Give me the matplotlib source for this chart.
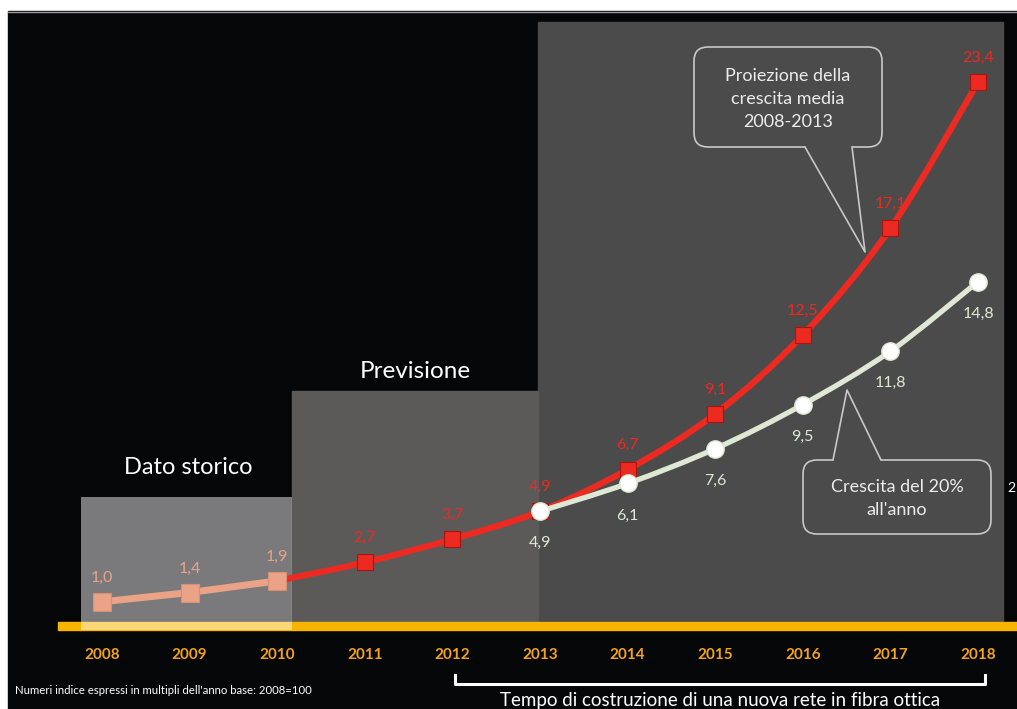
import numpy as np
import matplotlib.pyplot as plt
from matplotlib.patches import Rectangle, FancyBboxPatch, Polygon, PathPatch
from matplotlib.path import Path

plt.rcParams['font.family'] = ['Lato', 'DejaVu Sans']

# dati: numeri indice, 2008 = 1,0
anni = list(range(2008, 2019))
anni_storico = [2008, 2009, 2010]
valori_storico = [1.0, 1.4, 1.9]
anni_media = [2010, 2011, 2012, 2013, 2014, 2015, 2016, 2017, 2018]
valori_media = [1.9, 2.7, 3.7, 4.9, 6.7, 9.1, 12.5, 17.1, 23.4]
anni_20 = [2013, 2014, 2015, 2016, 2017, 2018]
valori_20 = [4.9, 6.1, 7.6, 9.5, 11.8, 14.8]

ROSSO = '#ec2a22'
SALMONE = '#eaa387'
BIANCO = '#dfe8d4'
ARANCIO = '#f2a31b'
GIALLO = '#f7b500'

W, H = 1017, 709
# pixel del primo anno e passo orizzontale, linea dello zero e pixel per unita'
X0, DX = 102, 87.6
Y0, DY = 625, 23.2


def fmt(v):
    return f"{v:.1f}".replace('.', ',')


def curva(xs, ys):
    # spline di Catmull-Rom resa come curve di Bezier
    pts = np.column_stack([xs, ys]).astype(float)
    ext = np.vstack([pts[0], pts, pts[-1]])
    verts = [pts[0]]
    codes = [Path.MOVETO]
    for i in range(len(pts) - 1):
        p0, p1, p2, p3 = ext[i], ext[i + 1], ext[i + 2], ext[i + 3]
        verts += [p1 + (p2 - p0) / 6, p2 - (p3 - p1) / 6, p2]
        codes += [Path.CURVE4] * 3
    return Path(verts, codes)


fig = plt.figure(figsize=(W / 100, H / 100), dpi=100, facecolor='white')

# livello di sfondo in pixel
bg = fig.add_axes([0, 0, 1, 1])
bg.set_xlim(0, W)
bg.set_ylim(H, 0)
bg.axis('off')
bg.add_patch(Rectangle((8, 11), W, H, color='#050608', zorder=0))
bg.plot([8, W], [11.5, 11.5], color='#9a9a9a', lw=1, zorder=1)

bg.add_patch(Rectangle((538, 22), 465, 604, color='#4b4b4b', zorder=1))
bg.add_patch(Rectangle((292, 391), 246, 235, color='#5c5a58', zorder=1))
bg.add_patch(Rectangle((58, 622), W - 58, 8, color=GIALLO, zorder=2))
bg.add_patch(Rectangle((81, 497), 211, 133, color='white', alpha=0.47, zorder=3, lw=0))

bg.text(188, 468, 'Dato storico', color='white', fontsize=17, ha='center', va='center')
bg.text(415, 372, 'Previsione', color='white', fontsize=17.5, ha='center', va='center')


def fumetto(x, y, w, h, base, punta, righe, cy, passo):
    bg.add_patch(FancyBboxPatch((x, y), w, h, boxstyle='round,pad=0,rounding_size=14',
                                fc='#4b4b4b', ec='#c8c8c8', lw=1.2, zorder=4))
    b1, b2, by = base
    dy = -4 if by > y + h / 2 else 4
    bg.add_patch(Polygon([(b1, by + dy), (b1, by), punta, (b2, by), (b2, by + dy)],
                         closed=True, fc='#4b4b4b', ec='none', zorder=5))
    bg.plot([b1, punta[0], b2], [by, punta[1], by], color='#c8c8c8', lw=1.2, zorder=6)
    for i, r in enumerate(righe):
        bg.text(x + w / 2, cy + i * passo, r, color='#ececec', fontsize=13,
                ha='center', va='center', zorder=7)


fumetto(694, 47, 188, 100, (805, 852, 147), (865, 252),
        ['Proiezione della', 'crescita media', '2008-2013'], 76, 23)
fumetto(803, 460, 188, 74, (833, 881, 460), (847, 390),
        ['Crescita del 20%', "all'anno"], 487, 23)
bg.text(1007, 488, '2', color='white', fontsize=10, ha='left', va='center')

# parentesi sotto gli anni di costruzione
bg.plot([455, 455, 985, 985], [675, 684, 684, 675], color='white', lw=2.2,
        solid_joinstyle='round', zorder=2)
bg.text(720, 692, 'Tempo di costruzione di una nuova rete in fibra ottica',
        color='white', fontsize=13.5, ha='center', va='top')
bg.text(15, 691, "Numeri indice espressi in multipli dell'anno base: 2008=100",
        color='white', fontsize=8.2, ha='left', va='center')

# livello dei dati
ax = fig.add_axes([0, 0, 1, 1])
ax.patch.set_alpha(0)
ax.set_xlim(2008 - X0 / DX, 2008 + (W - X0) / DX)
ax.set_ylim((Y0 - H) / DY, Y0 / DY)
ax.axis('off')

for a in anni:
    ax.text(a, (Y0 - 655) / DY, str(a), color=ARANCIO, fontsize=11,
            fontweight='bold', ha='center', va='center')

ax.plot(anni_storico, valori_storico, color=SALMONE, lw=5, zorder=3)
ax.plot(anni_storico, valori_storico, 's', ms=12.5, mfc=SALMONE, mec='#d88f74',
        mew=0.8, zorder=4)
for a, v in zip(anni_storico, valori_storico):
    ax.annotate(fmt(v), (a, v), xytext=(0, 17), textcoords='offset points',
                color=SALMONE, fontsize=11.5, ha='center', va='center', zorder=2)

ax.add_patch(PathPatch(curva(anni_media, valori_media), fill=False, ec=ROSSO,
                       lw=4.5, capstyle='round', zorder=3))
ax.plot(anni_media[1:], valori_media[1:], 's', ms=11, mfc=ROSSO, mec='#a8140e',
        mew=0.8, zorder=4)
for a, v in zip(anni_media[1:], valori_media[1:]):
    ax.annotate(fmt(v), (a, v), xytext=(0, 17.5), textcoords='offset points',
                color=ROSSO, fontsize=11.5, ha='center', va='center', zorder=2)

ax.add_patch(PathPatch(curva(anni_20, valori_20), fill=False, ec=BIANCO,
                       lw=3.8, capstyle='round', zorder=5))
ax.plot(anni_20, valori_20, 'o', ms=12.5, mfc='white', mec=BIANCO, mew=1,
        zorder=6)
for a, v in zip(anni_20, valori_20):
    ax.annotate(fmt(v), (a, v), xytext=(0, -23), textcoords='offset points',
                color=BIANCO, fontsize=11.5, ha='center', va='center', zorder=2)

fig.savefig('out.png', dpi=100, facecolor='white')
